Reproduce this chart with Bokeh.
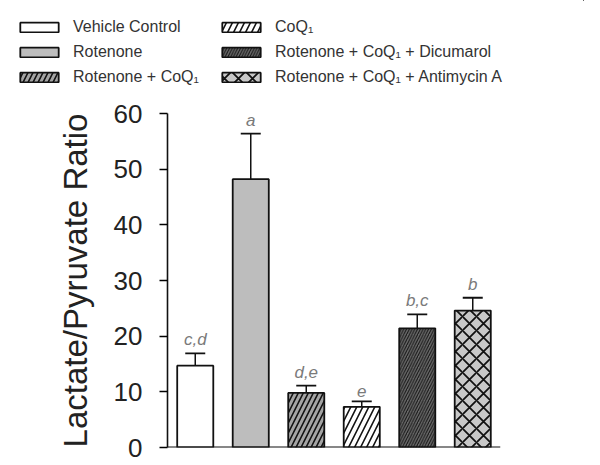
from bokeh.plotting import figure
from bokeh.models import ColumnDataSource, Whisker, TeeHead, Span, Legend, LegendItem, FactorRange
from bokeh.layouts import column, row
from bokeh.core.properties import value
from bokeh.embed import file_html
from bokeh.resources import INLINE

groups = ["Vehicle Control", "Rotenone", "Rotenone + CoQ₁", "CoQ₁",
          "Rotenone + CoQ₁ + Dicumarol", "Rotenone + CoQ₁ + Antimycin A"]
ratios = [14.7, 48.2, 9.8, 7.3, 21.4, 24.6]
errors = [2.2, 8.2, 1.3, 1.0, 2.5, 2.3]
letters = ["c,d", "a", "d,e", "e", "b,c", "b"]
y_ticks = [0, 10, 20, 30, 40, 50, 60]

fills = ["#ffffff", "#bdbdbd", "#a4a4a4", "#ffffff", "#6a6a6a", "#c8c8c8"]
hatches = [" ", " ", "/", "/", "/", "x"]
hscales = [10, 10, 10, 12, 5.5, 14]
hweights = [1, 1, 1.6, 1.6, 1.0, 1.8]

def style(i):
    return dict(fill_color=fills[i], line_color="#111111", line_width=1.8,
                hatch_pattern=hatches[i], hatch_color="#111111",
                hatch_scale=hscales[i], hatch_weight=hweights[i])

# ---- legend strip ----
lf = figure(width=584, height=92, output_backend="svg", toolbar_location=None,
            x_range=(0, 1), y_range=(0, 1), min_border=0)
lf.outline_line_color = None
lf.axis.visible = False
lf.grid.visible = False
leg_r = []
for i, g in enumerate(groups):
    es = ColumnDataSource(dict(x=[5], t=[5], b=[4]))  # lies outside the visible range
    leg_r.append(lf.vbar(x="x", top="t", bottom="b", width=0.1, source=es, **style(i)))

def make_legend(idx, loc):
    return Legend(items=[LegendItem(label=groups[i], renderers=[leg_r[i]]) for i in idx],
                  location=loc, orientation="vertical",
                  glyph_width=48, glyph_height=12, label_height=20, spacing=5,
                  label_standoff=10, padding=0, margin=0,
                  border_line_color=None, background_fill_alpha=0,
                  label_text_font="Liberation Sans", label_text_font_size="16px",
                  label_text_color="#333333")

lf.add_layout(make_legend([0, 1, 2], (15, 5)))
lf.add_layout(make_legend([3, 4, 5], (217, 5)))

# ---- main chart ----
p = figure(width=584, height=371, output_backend="svg", toolbar_location=None,
           x_range=FactorRange(*groups, range_padding=0), y_range=(0, 60),
           min_border_left=167, min_border_right=84, min_border_top=21,
           min_border_bottom=16)
p.outline_line_color = None
p.xgrid.visible = False
p.ygrid.visible = False
p.xaxis.visible = False

src = ColumnDataSource(dict(g=groups, v=ratios, up=[r + e for r, e in zip(ratios, errors)],
                            lab=letters))

for i, g in enumerate(groups):
    s = ColumnDataSource(dict(g=[g], v=[ratios[i]]))
    p.vbar(x="g", top="v", width=0.65, source=s, **style(i))

w = Whisker(base="g", lower="v", upper="up", source=src, dimension="height",
            line_color="#111111", line_width=1.5,
            upper_head=TeeHead(size=20, line_color="#111111", line_width=1.8),
            lower_head=None)
p.add_layout(w)

p.text(x="g", y="up", text="lab", source=src, text_align="center",
       text_baseline="bottom", y_offset=-4, text_font=value("Liberation Sans"),
       text_font_style="italic", text_font_size="17px", text_color="#7a7a7a")

p.add_layout(Span(location=0, dimension="width", line_color="#111111", line_width=1.8))

ya = p.yaxis[0]
ya.ticker = y_ticks
ya.axis_line_width = 1.6
ya.axis_line_color = "#111111"
ya.major_tick_out = 8
ya.major_tick_in = 0
ya.major_tick_line_width = 1.6
ya.minor_tick_out = 0
ya.minor_tick_in = 0
ya.major_label_text_font = "Liberation Sans"
ya.major_label_text_font_size = "26px"
ya.major_label_text_color = "#222222"
ya.major_label_standoff = 17
ya.axis_label = "Lactate/Pyruvate Ratio"
ya.axis_label_text_font = "Liberation Sans"
ya.axis_label_text_font_size = "33px"
ya.axis_label_text_font_style = "normal"
ya.axis_label_text_color = "#222222"
ya.axis_label_standoff = 17

layout = column(row(lf), p, spacing=0)
open("out.html", "w").write(file_html(layout, INLINE))
